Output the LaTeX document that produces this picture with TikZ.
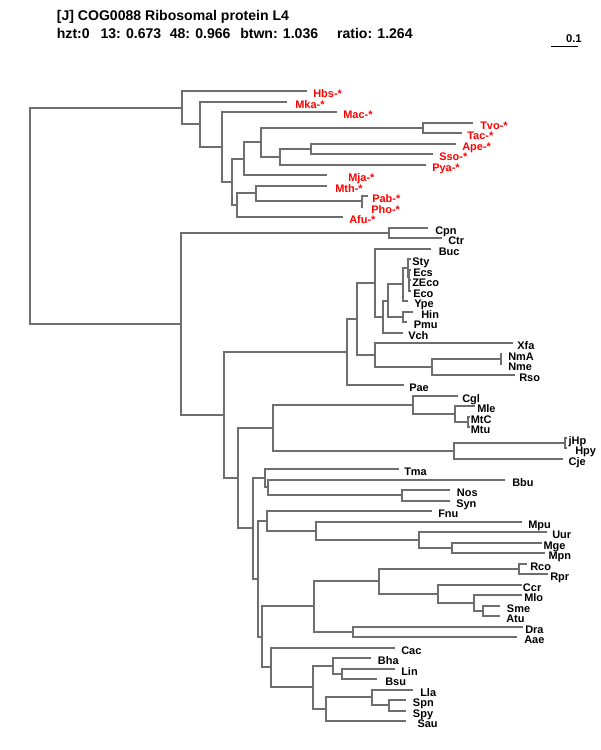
\documentclass[tikz,border=0pt]{standalone}
\usepackage{fontspec}
\setmainfont{Liberation Sans}
\definecolor{branchgray}{RGB}{110,110,110}
\definecolor{archred}{RGB}{255,0,0}

\begin{document}
\begin{tikzpicture}[
  x=0.025cm, y=-0.025cm,
  branch/.style={draw=branchgray, line width=1.417pt},
  taxon/.style={anchor=base west, inner sep=0pt, yshift=-4.7pt,
              font=\bfseries\fontsize{7.8}{8}\selectfont},
  arch/.style={taxon, text=archred},
  bact/.style={taxon, text=black},
  head/.style={anchor=base west, inner sep=0pt,
              font=\bfseries\fontsize{10}{12}\selectfont},
]
\useasboundingbox (0,0) rectangle (600,750);

% header
\node[head] (title) at (56.6,20) {[J] COG0088 Ribosomal protein L4};
\node[head] (hzt) at (56.6,38) {hzt:0};
\node[head] (n13) at (100.3,38) {13: 0.673};
\node[head] (n48) at (169.5,38) {48: 0.966};
\node[head] (btwn) at (240,38) {btwn: 1.036};
\node[head] (ratio) at (336.8,38) {ratio: 1.264};

% scale bar
\coordinate (bar-l) at (551,46);
\coordinate (bar-r) at (578,46);
\draw[black, line width=0.7pt] (bar-l) -- (bar-r);
\node[head, anchor=base east, font=\bfseries\fontsize{8}{10}\selectfont] (scale) at (582,42) {0.1};

% archaea tips
\coordinate (hbs-t) at (307,91);  \node[arch] (hbs) at (313,91) {Hbs-*};
\coordinate (mka-t) at (287,102); \node[arch] (mka) at (295,102) {Mka-*};
\coordinate (mac-t) at (337,112); \node[arch] (mac) at (343,112) {Mac-*};
\coordinate (tvo-t) at (473,123); \node[arch] (tvo) at (480,123) {Tvo-*};
\coordinate (tac-t) at (462,133); \node[arch] (tac) at (467,133) {Tac-*};
\coordinate (ape-t) at (456,144); \node[arch] (ape) at (462,144) {Ape-*};
\coordinate (sso-t) at (433,154); \node[arch] (sso) at (439,154) {Sso-*};
\coordinate (pya-t) at (426,165); \node[arch] (pya) at (432,165) {Pya-*};
\coordinate (mja-t) at (327,175); \node[arch] (mja) at (348,175) {Mja-*};
\coordinate (mth-t) at (327,186); \node[arch] (mth) at (335,186) {Mth-*};
\coordinate (pab-t) at (368,196); \node[arch] (pab) at (372,196) {Pab-*};
\coordinate (pho-t) at (363,207); \node[arch] (pho) at (371,207) {Pho-*};
\coordinate (afu-t) at (343,217); \node[arch] (afu) at (349,217) {Afu-*};

% bacteria tips
\coordinate (cpn-t) at (428,228);  \node[bact] (cpn) at (435,228) {Cpn};
\coordinate (ctr-t) at (442,238);  \node[bact] (ctr) at (448,238) {Ctr};
\coordinate (buc-t) at (431,249);  \node[bact] (buc) at (438.5,249) {Buc};
\coordinate (sty-t) at (411,259);  \node[bact] (sty) at (412,259) {Sty};
\coordinate (ecs-t) at (411,270);  \node[bact] (ecs) at (413,270) {Ecs};
\coordinate (zeco-t) at (411,280); \node[bact] (zeco) at (412,280) {ZEco};
\coordinate (eco-t) at (411,291);  \node[bact] (eco) at (413,291) {Eco};
\coordinate (ype-t) at (408,301);  \node[bact] (ype) at (414,301) {Ype};
\coordinate (hin-t) at (413,312);  \node[bact] (hin) at (421,312) {Hin};
\coordinate (pmu-t) at (407,322);  \node[bact] (pmu) at (413.5,322) {Pmu};
\coordinate (vch-t) at (403,333);  \node[bact] (vch) at (408,333) {Vch};
\coordinate (xfa-t) at (513,343);  \node[bact] (xfa) at (517,343) {Xfa};
\coordinate (nma-t) at (502,354);  \node[bact] (nma) at (508,354) {NmA};
\coordinate (nme-t) at (502,364);  \node[bact] (nme) at (508,364) {Nme};
\coordinate (rso-t) at (515,375);  \node[bact] (rso) at (519,375) {Rso};
\coordinate (pae-t) at (404,385);  \node[bact] (pae) at (409,385) {Pae};
\coordinate (cgl-t) at (458,396);  \node[bact] (cgl) at (462,396) {Cgl};
\coordinate (mle-t) at (475,406);  \node[bact] (mle) at (477,406) {Mle};
\coordinate (mtc-t) at (470,417);  \node[bact] (mtc) at (470.5,417) {MtC};
\coordinate (mtu-t) at (470,427);  \node[bact] (mtu) at (470.5,427) {Mtu};
\coordinate (jhp-t) at (567,438);  \node[bact] (jhp) at (568.3,438) {jHp};
\coordinate (hpy-t) at (567,448);  \node[bact] (hpy) at (575,448) {Hpy};
\coordinate (cje-t) at (563,459);  \node[bact] (cje) at (568.3,459) {Cje};
\coordinate (tma-t) at (399,469);  \node[bact] (tma) at (404,469) {Tma};
\coordinate (bbu-t) at (505,480);  \node[bact] (bbu) at (512,480) {Bbu};
\coordinate (nos-t) at (450,490);  \node[bact] (nos) at (456.7,490) {Nos};
\coordinate (syn-t) at (450,501);  \node[bact] (syn) at (456,501) {Syn};
\coordinate (fnu-t) at (432,511);  \node[bact] (fnu) at (438,511) {Fnu};
\coordinate (mpu-t) at (522,522);  \node[bact] (mpu) at (528,522) {Mpu};
\coordinate (uur-t) at (547,532);  \node[bact] (uur) at (552,532) {Uur};
\coordinate (mge-t) at (542,543);  \node[bact] (mge) at (543.3,543) {Mge};
\coordinate (mpn-t) at (545,553);  \node[bact] (mpn) at (548.3,553) {Mpn};
\coordinate (rco-t) at (527,564);  \node[bact] (rco) at (530,564) {Rco};
\coordinate (rpr-t) at (548,574);  \node[bact] (rpr) at (550,574) {Rpr};
\coordinate (ccr-t) at (522,585);  \node[bact] (ccr) at (522.7,585) {Ccr};
\coordinate (mlo-t) at (522,595);  \node[bact] (mlo) at (524,595) {Mlo};
\coordinate (sme-t) at (500,606);  \node[bact] (sme) at (506.7,606) {Sme};
\coordinate (atu-t) at (500,616);  \node[bact] (atu) at (506,616) {Atu};
\coordinate (dra-t) at (523,627);  \node[bact] (dra) at (525,627) {Dra};
\coordinate (aae-t) at (517,637);  \node[bact] (aae) at (524,637) {Aae};
\coordinate (cac-t) at (395,648);  \node[bact] (cac) at (401,648) {Cac};
\coordinate (bha-t) at (371,658);  \node[bact] (bha) at (377.7,658) {Bha};
\coordinate (lin-t) at (395,669);  \node[bact] (lin) at (401,669) {Lin};
\coordinate (bsu-t) at (377,679);  \node[bact] (bsu) at (385,679) {Bsu};
\coordinate (lla-t) at (413,690);  \node[bact] (lla) at (420,690) {Lla};
\coordinate (spn-t) at (406,700);  \node[bact] (spn) at (412.7,700) {Spn};
\coordinate (spy-t) at (406,711);  \node[bact] (spy) at (412.7,711) {Spy};
\coordinate (sau-t) at (406,721);  \node[bact] (sau) at (417.3,721) {Sau};

% inner nodes
\coordinate (root) at (30,216);
\coordinate (ar1) at (182,108);
\coordinate (ar2) at (200,124);
\coordinate (ar3) at (222,147);
\coordinate (ar4) at (232,182);
\coordinate (ar5) at (244,159);
\coordinate (ar6) at (261,142);
\coordinate (tvotac) at (423,128);
\coordinate (ar7) at (280,157);
\coordinate (apesso) at (311,149);
\coordinate (ar8) at (237,205);
\coordinate (ar9) at (256,193);
\coordinate (pabpho) at (362,201);
\coordinate (ba1) at (181,324);
\coordinate (chl) at (389,233);
\coordinate (ba2) at (224,415);
\coordinate (prot) at (347,352);
\coordinate (ba3) at (357,319);
\coordinate (ent) at (375,283);
\coordinate (ent2) at (383,317);
\coordinate (ent3) at (388,301);
\coordinate (ent4) at (403,284);
\coordinate (eco1) at (408,268);
\coordinate (eco2) at (409,277);
\coordinate (eco3) at (409,285);
\coordinate (pas) at (403,317);
\coordinate (ba4) at (375,355);
\coordinate (nei1) at (432,367);
\coordinate (nei2) at (501,359);
\coordinate (ba5) at (238,478);
\coordinate (act) at (273,428);
\coordinate (cor) at (413,405);
\coordinate (myc1) at (455,414);
\coordinate (myc2) at (468,422);
\coordinate (eps) at (454,451);
\coordinate (hpy2) at (565,443);
\coordinate (ba6) at (253,528);
\coordinate (ba7) at (265,478);
\coordinate (ba8) at (268,487);
\coordinate (cya) at (402,495);
\coordinate (ba9) at (258,579);
\coordinate (ba10) at (267,521);
\coordinate (mol1) at (316,531);
\coordinate (mol2) at (419,540);
\coordinate (mol3) at (452,548);
\coordinate (ba11) at (262,637);
\coordinate (ba12) at (314,606);
\coordinate (alp1) at (379,581);
\coordinate (ric) at (519,569);
\coordinate (alp2) at (438,594);
\coordinate (alp3) at (474,603);
\coordinate (alp4) at (483,611);
\coordinate (dei) at (353,632);
\coordinate (firm1) at (271,667);
\coordinate (firm2) at (313,687);
\coordinate (bac1) at (333,666);
\coordinate (bac2) at (342,674);
\coordinate (str1) at (326,709);
\coordinate (str2) at (372,697);
\coordinate (str3) at (389,705);

% archaea
\draw[branch] (ar1) -| (root) |- (ba1);
\draw[branch] (hbs-t) -| (ar1) |- (ar2);
\draw[branch] (mka-t) -| (ar2) |- (ar3);
\draw[branch] (mac-t) -| (ar3) |- (ar4);
\draw[branch] (ar5) -| (ar4) |- (ar8);
\draw[branch] (ar6) -| (ar5) |- (mja-t);
\draw[branch] (tvotac) -| (ar6) |- (ar7);
\draw[branch] (tvo-t) -| (tvotac) |- (tac-t);
\draw[branch] (apesso) -| (ar7) |- (pya-t);
\draw[branch] (ape-t) -| (apesso) |- (sso-t);
\draw[branch] (ar9) -| (ar8) |- (afu-t);
\draw[branch] (mth-t) -| (ar9) |- (pabpho);
\draw[branch] (pab-t) -| (pabpho) |- (pho-t);

% bacteria
\draw[branch] (chl) -| (ba1) |- (ba2);
\draw[branch] (cpn-t) -| (chl) |- (ctr-t);
\draw[branch] (prot) -| (ba2) |- (ba5);
\draw[branch] (ba3) -| (prot) |- (pae-t);
\draw[branch] (ent) -| (ba3) |- (ba4);
\draw[branch] (buc-t) -| (ent) |- (ent2);
\draw[branch] (ent3) -| (ent2) |- (vch-t);
\draw[branch] (ent4) -| (ent3) |- (pas);
\draw[branch] (eco1) -| (ent4) |- (ype-t);
\draw[branch] (sty-t) -| (eco1) |- (eco2);
\draw[branch] (ecs-t) -| (eco2) |- (eco3);
\draw[branch] (zeco-t) -| (eco3) |- (eco-t);
\draw[branch] (hin-t) -| (pas) |- (pmu-t);
\draw[branch] (xfa-t) -| (ba4) |- (nei1);
\draw[branch] (nei2) -| (nei1) |- (rso-t);
\draw[branch] (nma-t) -| (nei2) |- (nme-t);
\draw[branch] (act) -| (ba5) |- (ba6);
\draw[branch] (cor) -| (act) |- (eps);
\draw[branch] (cgl-t) -| (cor) |- (myc1);
\draw[branch] (mle-t) -| (myc1) |- (myc2);
\draw[branch] (mtc-t) -| (myc2) |- (mtu-t);
\draw[branch] (hpy2) -| (eps) |- (cje-t);
\draw[branch] (jhp-t) -| (hpy2) |- (hpy-t);
\draw[branch] (ba7) -| (ba6) |- (ba9);
\draw[branch] (tma-t) -| (ba7) |- (ba8);
\draw[branch] (bbu-t) -| (ba8) |- (cya);
\draw[branch] (nos-t) -| (cya) |- (syn-t);
\draw[branch] (ba10) -| (ba9) |- (ba11);
\draw[branch] (fnu-t) -| (ba10) |- (mol1);
\draw[branch] (mpu-t) -| (mol1) |- (mol2);
\draw[branch] (uur-t) -| (mol2) |- (mol3);
\draw[branch] (mge-t) -| (mol3) |- (mpn-t);
\draw[branch] (ba12) -| (ba11) |- (firm1);
\draw[branch] (alp1) -| (ba12) |- (dei);
\draw[branch] (ric) -| (alp1) |- (alp2);
\draw[branch] (rco-t) -| (ric) |- (rpr-t);
\draw[branch] (ccr-t) -| (alp2) |- (alp3);
\draw[branch] (mlo-t) -| (alp3) |- (alp4);
\draw[branch] (sme-t) -| (alp4) |- (atu-t);
\draw[branch] (dra-t) -| (dei) |- (aae-t);
\draw[branch] (cac-t) -| (firm1) |- (firm2);
\draw[branch] (bac1) -| (firm2) |- (str1);
\draw[branch] (bha-t) -| (bac1) |- (bac2);
\draw[branch] (lin-t) -| (bac2) |- (bsu-t);
\draw[branch] (str2) -| (str1) |- (sau-t);
\draw[branch] (lla-t) -| (str2) |- (str3);
\draw[branch] (spn-t) -| (str3) |- (spy-t);

\end{tikzpicture}
\end{document}
